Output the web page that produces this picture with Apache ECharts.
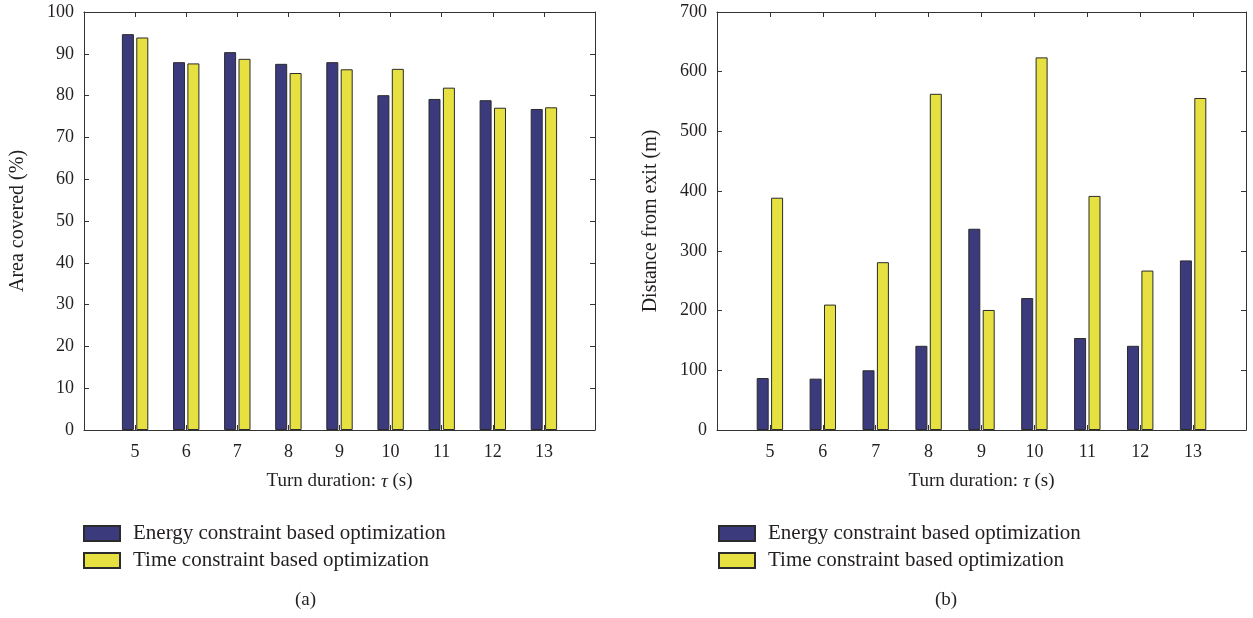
<!DOCTYPE html>
<html>
<head>
<meta charset="utf-8">
<title>Turn duration comparison</title>
<script src="https://cdn.jsdelivr.net/npm/echarts@6/dist/echarts.min.js"></script>
<style>
  html, body { margin: 0; padding: 0; background: #fff; }
  #chart { width: 1253px; height: 618px; }
</style>
</head>
<body>
<div id="chart"></div>
<script>
// turn duration tau (s)
var durations = [5, 6, 7, 8, 9, 10, 11, 12, 13];

// (a) area covered (%)
var areaEnergy = [94.7, 88.0, 90.4, 87.6, 88.0, 80.1, 79.2, 78.9, 76.8];
var areaTime = [93.9, 87.7, 88.8, 85.4, 86.3, 86.4, 81.9, 77.1, 77.2];

// (b) distance from exit (m)
var distEnergy = [87, 86, 100, 141, 337, 221, 154, 141, 284];
var distTime = [389, 210, 281, 563, 201, 624, 392, 267, 556];

var seriesNames = ['Energy constraint based optimization', 'Time constraint based optimization'];
var panelLabels = ['(a)', '(b)'];

var FONT = '"Liberation Serif", "DejaVu Serif", serif';
var INK = '#231f20';
var BLUE = '#3b3a7d';
var YELLOW = '#e6e141';

function pairs(values) {
  return durations.map(function (d, i) { return [d, values[i]]; });
}

function xAxisOf(gridIndex, position, withLabels) {
  return {
    type: 'value',
    gridIndex: gridIndex,
    position: position,
    min: 4,
    max: 14,
    interval: 1,
    splitLine: { show: false },
    axisLine: { show: true, onZero: false, lineStyle: { color: '#333', width: 1 } },
    axisTick: { show: true, inside: true, length: 5, lineStyle: { color: '#333' } },
    axisLabel: {
      show: withLabels,
      margin: 13,
      fontFamily: FONT,
      fontSize: 18,
      color: INK,
      formatter: function (v) { return (v < 5 || v > 13) ? '' : v; }
    },
    name: withLabels ? 'Turn duration: {i|τ} (s)' : '',
    nameLocation: 'middle',
    nameGap: 42,
    nameTextStyle: {
      fontFamily: FONT,
      fontSize: 19,
      color: INK,
      rich: { i: { fontFamily: FONT, fontSize: 19, fontStyle: 'italic', color: INK } }
    }
  };
}

function yAxisOf(gridIndex, position, max, interval, name, nameGap) {
  var withLabels = position === 'left';
  return {
    type: 'value',
    gridIndex: gridIndex,
    position: position,
    min: 0,
    max: max,
    interval: interval,
    splitLine: { show: false },
    axisLine: { show: true, onZero: false, lineStyle: { color: '#333', width: 1 } },
    axisTick: { show: true, inside: true, length: 5, lineStyle: { color: '#333' } },
    axisLabel: { show: withLabels, margin: 10, fontFamily: FONT, fontSize: 18, color: INK },
    name: withLabels ? name : '',
    nameLocation: 'middle',
    nameGap: nameGap,
    nameTextStyle: { fontFamily: FONT, fontSize: 20, color: INK }
  };
}

function barSeries(name, color, xIdx, yIdx, values) {
  return {
    name: name,
    type: 'bar',
    xAxisIndex: xIdx,
    yAxisIndex: yIdx,
    barWidth: 12,
    barGap: '20%',
    itemStyle: { color: color, borderColor: '#2b2b2b', borderWidth: 1 },
    emphasis: { disabled: true },
    data: pairs(values)
  };
}

function legendOf(left) {
  return {
    left: left,
    top: 518,
    orient: 'vertical',
    icon: 'rect',
    itemWidth: 36,
    itemHeight: 15,
    itemGap: 6,
    selectedMode: false,
    data: seriesNames,
    textStyle: { fontFamily: FONT, fontSize: 21, color: INK, lineHeight: 21, padding: [0, 0, 0, 8] }
  };
}

var chart = echarts.init(document.getElementById('chart'), null, { renderer: 'canvas' });

var option = {
  animation: false,
  backgroundColor: '#fff',
  grid: [
    { left: 84, top: 12, width: 511, height: 418, containLabel: false },
    { left: 717, top: 12, width: 529, height: 418, containLabel: false }
  ],
  xAxis: [
    xAxisOf(0, 'bottom', true),
    xAxisOf(0, 'top', false),
    xAxisOf(1, 'bottom', true),
    xAxisOf(1, 'top', false)
  ],
  yAxis: [
    yAxisOf(0, 'left', 100, 10, 'Area covered (%)', 56),
    yAxisOf(0, 'right', 100, 10, '', 0),
    yAxisOf(1, 'left', 700, 100, 'Distance from exit (m)', 56),
    yAxisOf(1, 'right', 700, 100, '', 0)
  ],
  legend: [legendOf(78), legendOf(713)],
  graphic: [
    { type: 'text', left: 295, top: 591, style: { text: panelLabels[0], font: '19px ' + FONT, fill: INK } },
    { type: 'text', left: 935, top: 591, style: { text: panelLabels[1], font: '19px ' + FONT, fill: INK } }
  ],
  series: [
    barSeries(seriesNames[0], BLUE, 0, 0, areaEnergy),
    barSeries(seriesNames[1], YELLOW, 0, 0, areaTime),
    barSeries(seriesNames[0], BLUE, 2, 2, distEnergy),
    barSeries(seriesNames[1], YELLOW, 2, 2, distTime)
  ]
};

chart.setOption(option);
</script>
</body>
</html>
